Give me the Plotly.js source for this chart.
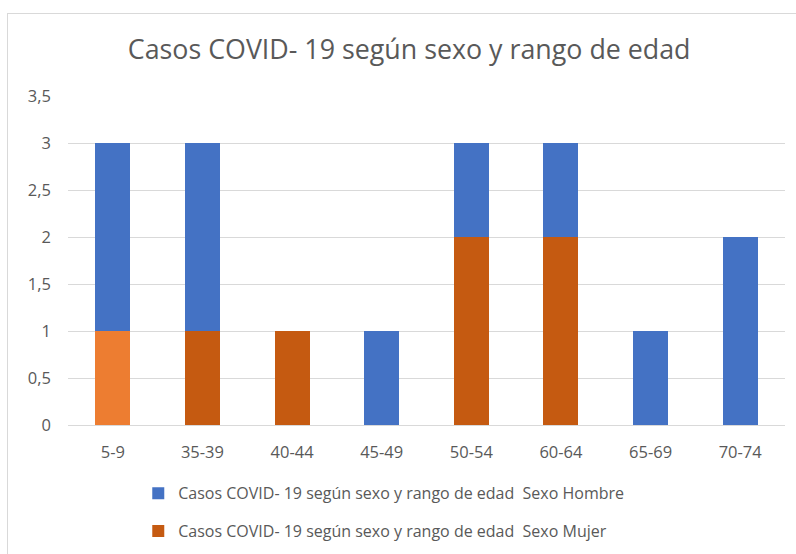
<!DOCTYPE html>
<html>
<head>
<meta charset="utf-8">
<script src="https://cdn.plot.ly/plotly-3.0.1.min.js"></script>
<style>
  body { margin: 0; background: #fff; }
  #wrap { position: relative; width: 796px; height: 554px; overflow: hidden; }
  #chart { width: 796px; height: 554px; }
  #frame { position: absolute; left: 7px; top: 13px; width: 800px; height: 560px;
           border: 1.5px solid #d9d9d9; pointer-events: none; }
</style>
</head>
<body>
<div id="wrap"><div id="chart"></div><div id="frame"></div></div>
<script>
const categories = ["5-9", "35-39", "40-44", "45-49", "50-54", "60-64", "65-69", "70-74"];
const hombre = [2, 2, 0, 1, 1, 1, 1, 2];
const mujer  = [1, 1, 1, 0, 2, 2, 0, 0];
const seriesNames = [
  "Casos COVID- 19 según sexo y rango de edad\u00a0\u00a0Sexo Hombre",
  "Casos COVID- 19 según sexo y rango de edad\u00a0\u00a0Sexo Mujer"
];
const titleText = "Casos COVID- 19 según sexo y rango de edad";

const blue = "#4472C4";
const orangeDark = "#C55A11";
const orangeLight = "#ED7D31";
const mujerColors = categories.map((c, i) => i === 0 ? orangeLight : orangeDark);

const font = "Open Sans, Noto Sans, sans-serif";
const gray = "#595959";

const traces = [
  { type: "bar", name: seriesNames[1], x: categories, y: mujer, legendgroup: "m",
    marker: { color: mujerColors, line: { width: 0 } }, showlegend: false, hoverinfo: "none" },
  { type: "bar", name: seriesNames[0], x: categories, y: hombre, legendgroup: "h",
    marker: { color: blue, line: { width: 0 } }, legendrank: 1 },
  { type: "bar", name: seriesNames[1], x: categories, y: categories.map(() => null), legendgroup: "m",
    marker: { color: orangeDark }, legendrank: 2 }
];

const layout = {
  width: 796, height: 554,
  margin: { l: 68, r: 11, t: 96, b: 129, autoexpand: false },
  paper_bgcolor: "#fff", plot_bgcolor: "#fff",
  barmode: "stack", bargap: 0.61,
  separators: ",.",
  font: { family: font, color: gray, size: 16 },
  title: { text: titleText, font: { family: font, size: 26.8, color: gray },
           x: 0.514, xanchor: "center", y: 0.91, yanchor: "middle" },
  xaxis: { type: "category", showgrid: false, showline: false, zeroline: false, automargin: false,
           ticks: "", tickfont: { size: 16.5, color: gray }, ticklabelstandoff: 15, fixedrange: true },
  yaxis: { range: [0, 3.5], dtick: 0.5, tick0: 0, showgrid: true, gridcolor: "#d9d9d9",
           gridwidth: 1, zeroline: true, zerolinecolor: "#d9d9d9", zerolinewidth: 1, automargin: false,
           showline: false, ticks: "", tickfont: { size: 16.5, color: gray },
           ticklabelstandoff: 16, fixedrange: true },
  showlegend: true,
  legend: { orientation: "v", x: 0.098, xanchor: "left", y: -0.156, yanchor: "top",
            font: { size: 16, color: gray }, tracegroupgap: 14, traceorder: "grouped",
            bgcolor: "rgba(0,0,0,0)" }
};

Plotly.newPlot("chart", traces, layout, { displayModeBar: false, staticPlot: true });
</script>
</body>
</html>
